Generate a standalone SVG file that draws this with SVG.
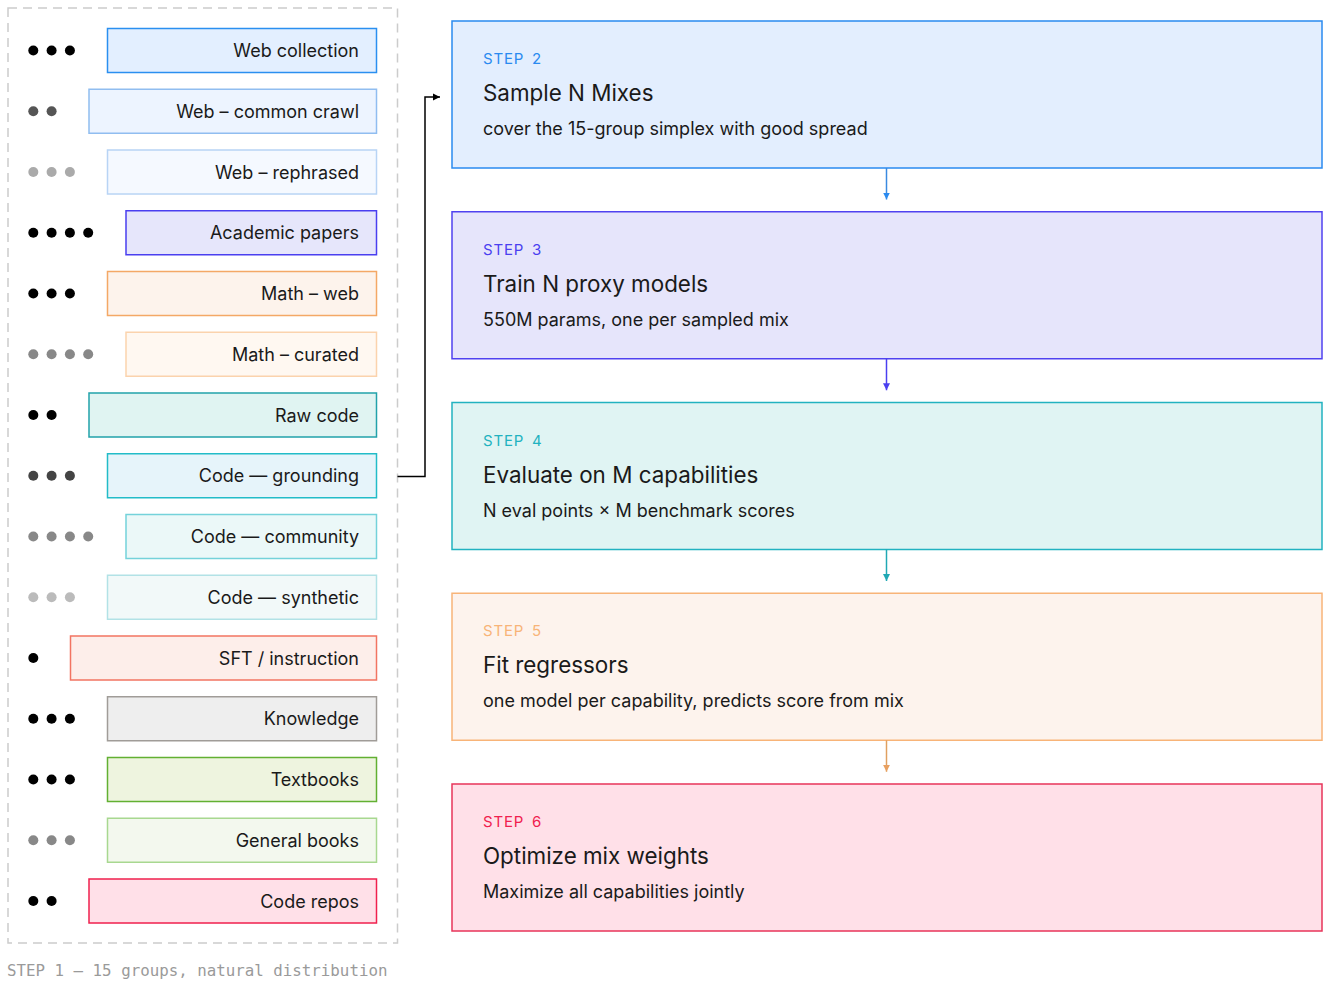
<svg xmlns="http://www.w3.org/2000/svg" width="1326" height="983" viewBox="0 0 1326 983">
<style>
  .lbl{font-family:Inter,"Liberation Sans",sans-serif;font-size:18px;fill:#1a1a1a;text-anchor:end}
  .step{font-family:Inter,"Liberation Sans",sans-serif;font-size:15px;letter-spacing:0.8px;word-spacing:3px}
  .title{font-family:Inter,"Liberation Sans",sans-serif;font-size:22.4px;fill:#1a1a1a}
  .sub{font-family:Inter,"Liberation Sans",sans-serif;font-size:18px;fill:#1a1a1a}
  .cap{font-family:"DejaVu Sans Mono","Liberation Mono",monospace;font-size:15.8px;fill:#9a9a9a}
  .box{stroke-width:1.5}
  .sbox{stroke-width:1.5}
</style>
<defs>
  <marker id="ak" markerUnits="userSpaceOnUse" markerWidth="8" markerHeight="8" refX="7" refY="4" orient="auto"><path d="M0,0.5 L7,4 L0,7.5 z" fill="#000"/></marker>
  <marker id="a2" markerUnits="userSpaceOnUse" markerWidth="8" markerHeight="8" refX="7" refY="4" orient="auto"><path d="M0,0.5 L7,4 L0,7.5 z" fill="#2a8af0"/></marker>
  <marker id="a3" markerUnits="userSpaceOnUse" markerWidth="8" markerHeight="8" refX="7" refY="4" orient="auto"><path d="M0,0.5 L7,4 L0,7.5 z" fill="#4a3ff0"/></marker>
  <marker id="a4" markerUnits="userSpaceOnUse" markerWidth="8" markerHeight="8" refX="7" refY="4" orient="auto"><path d="M0,0.5 L7,4 L0,7.5 z" fill="#20a8b4"/></marker>
  <marker id="a5" markerUnits="userSpaceOnUse" markerWidth="8" markerHeight="8" refX="7" refY="4" orient="auto"><path d="M0,0.5 L7,4 L0,7.5 z" fill="#e8a060"/></marker>
</defs>
<rect width="1326" height="983" fill="#ffffff"/>

<g id="step1-panel">
  <rect x="8" y="8" width="389.5" height="935" fill="none" stroke="#cccccc" stroke-width="1.5" stroke-dasharray="9 6"/>
  <text class="cap" x="7" y="976">STEP 1 — 15 groups, natural distribution</text>
</g>

<g id="g-web-collection">
  <rect class="box" x="107.5" y="28.5" width="269" height="44" fill="#e3efff" stroke="#2a8ff0"/>
  <text class="lbl" x="359" y="57">Web collection</text>
  <g fill="#000"><circle cx="33.3" cy="50.5" r="5"/><circle cx="51.6" cy="50.5" r="5"/><circle cx="69.9" cy="50.5" r="5"/></g>
</g>
<g id="g-web-cc">
  <rect class="box" x="89" y="89.25" width="287.5" height="44" fill="#edf4ff" stroke="#90bdf0"/>
  <text class="lbl" x="359" y="117.75">Web – common crawl</text>
  <g fill="#555"><circle cx="33.3" cy="111.25" r="5"/><circle cx="51.6" cy="111.25" r="5"/></g>
</g>
<g id="g-web-reph">
  <rect class="box" x="107.5" y="150" width="269" height="44" fill="#f5f9ff" stroke="#b8d4f5"/>
  <text class="lbl" x="359" y="178.5">Web – rephrased</text>
  <g fill="#aaa"><circle cx="33.3" cy="172" r="5"/><circle cx="51.6" cy="172" r="5"/><circle cx="69.9" cy="172" r="5"/></g>
</g>
<g id="g-academic">
  <rect class="box" x="126" y="210.75" width="250.5" height="44" fill="#e6e6fb" stroke="#4a3ff0"/>
  <text class="lbl" x="359" y="239.25">Academic papers</text>
  <g fill="#000"><circle cx="33.3" cy="232.75" r="5"/><circle cx="51.6" cy="232.75" r="5"/><circle cx="69.9" cy="232.75" r="5"/><circle cx="88.2" cy="232.75" r="5"/></g>
</g>
<g id="g-math-web">
  <rect class="box" x="107.5" y="271.5" width="269" height="44" fill="#fdf3ec" stroke="#f4a866"/>
  <text class="lbl" x="359" y="300">Math – web</text>
  <g fill="#000"><circle cx="33.3" cy="293.5" r="5"/><circle cx="51.6" cy="293.5" r="5"/><circle cx="69.9" cy="293.5" r="5"/></g>
</g>
<g id="g-math-cur">
  <rect class="box" x="126" y="332.25" width="250.5" height="44" fill="#fff8f1" stroke="#fbd3ad"/>
  <text class="lbl" x="359" y="360.75">Math – curated</text>
  <g fill="#888"><circle cx="33.3" cy="354.25" r="5"/><circle cx="51.6" cy="354.25" r="5"/><circle cx="69.9" cy="354.25" r="5"/><circle cx="88.2" cy="354.25" r="5"/></g>
</g>
<g id="g-raw-code">
  <rect class="box" x="89" y="393" width="287.5" height="44" fill="#e0f4f2" stroke="#22a2aa"/>
  <text class="lbl" x="359" y="421.5">Raw code</text>
  <g fill="#000"><circle cx="33.3" cy="415" r="5"/><circle cx="51.6" cy="415" r="5"/></g>
</g>
<g id="g-code-ground">
  <rect class="box" x="107.5" y="453.75" width="269" height="44" fill="#e6f4fa" stroke="#22bcc8"/>
  <text class="lbl" x="359" y="482.25">Code — grounding</text>
  <g fill="#444"><circle cx="33.3" cy="475.75" r="5"/><circle cx="51.6" cy="475.75" r="5"/><circle cx="69.9" cy="475.75" r="5"/></g>
</g>
<g id="g-code-comm">
  <rect class="box" x="126" y="514.5" width="250.5" height="44" fill="#ebf8f8" stroke="#74d2da"/>
  <text class="lbl" x="359" y="543">Code — community</text>
  <g fill="#888"><circle cx="33.3" cy="536.5" r="5"/><circle cx="51.6" cy="536.5" r="5"/><circle cx="69.9" cy="536.5" r="5"/><circle cx="88.2" cy="536.5" r="5"/></g>
</g>
<g id="g-code-syn">
  <rect class="box" x="107.5" y="575.25" width="269" height="44" fill="#f2f9f9" stroke="#b2e2e6"/>
  <text class="lbl" x="359" y="603.75">Code — synthetic</text>
  <g fill="#bbb"><circle cx="33.3" cy="597.25" r="5"/><circle cx="51.6" cy="597.25" r="5"/><circle cx="69.9" cy="597.25" r="5"/></g>
</g>
<g id="g-sft">
  <rect class="box" x="70.5" y="636" width="306" height="44" fill="#fdeeea" stroke="#f27462"/>
  <text class="lbl" x="359" y="664.5">SFT / instruction</text>
  <g fill="#000"><circle cx="33.3" cy="658" r="5"/></g>
</g>
<g id="g-knowledge">
  <rect class="box" x="107.5" y="696.75" width="269" height="44" fill="#eeeeee" stroke="#a09c98"/>
  <text class="lbl" x="359" y="725.25">Knowledge</text>
  <g fill="#000"><circle cx="33.3" cy="718.75" r="5"/><circle cx="51.6" cy="718.75" r="5"/><circle cx="69.9" cy="718.75" r="5"/></g>
</g>
<g id="g-textbooks">
  <rect class="box" x="107.5" y="757.5" width="269" height="44" fill="#eef4df" stroke="#62b032"/>
  <text class="lbl" x="359" y="786">Textbooks</text>
  <g fill="#000"><circle cx="33.3" cy="779.5" r="5"/><circle cx="51.6" cy="779.5" r="5"/><circle cx="69.9" cy="779.5" r="5"/></g>
</g>
<g id="g-general-books">
  <rect class="box" x="107.5" y="818.25" width="269" height="44" fill="#f3f8ee" stroke="#a8d890"/>
  <text class="lbl" x="359" y="846.75">General books</text>
  <g fill="#888"><circle cx="33.3" cy="840.25" r="5"/><circle cx="51.6" cy="840.25" r="5"/><circle cx="69.9" cy="840.25" r="5"/></g>
</g>
<g id="g-code-repos">
  <rect class="box" x="89" y="879" width="287.5" height="44" fill="#ffe0e8" stroke="#f0204e"/>
  <text class="lbl" x="359" y="907.5">Code repos</text>
  <g fill="#000"><circle cx="33.3" cy="901" r="5"/><circle cx="51.6" cy="901" r="5"/></g>
</g>

<g id="step2">
  <rect class="sbox" x="452" y="21" width="870" height="147" fill="#e3eefe" stroke="#2a8af0"/>
  <text class="step" x="483" y="64" fill="#2a8af0">STEP 2</text>
  <text class="title" x="483" y="101">Sample N Mixes</text>
  <text class="sub" x="483" y="135">cover the 15-group simplex with good spread</text>
</g>
<g id="step3">
  <rect class="sbox" x="452" y="211.75" width="870" height="147" fill="#e6e5fb" stroke="#5042f0"/>
  <text class="step" x="483" y="254.75" fill="#4a3ff0">STEP 3</text>
  <text class="title" x="483" y="291.75">Train N proxy models</text>
  <text class="sub" x="483" y="325.75">550M params, one per sampled mix</text>
</g>
<g id="step4">
  <rect class="sbox" x="452" y="402.5" width="870" height="147" fill="#e0f4f3" stroke="#22b2c0"/>
  <text class="step" x="483" y="445.5" fill="#22b2c0">STEP 4</text>
  <text class="title" x="483" y="482.5">Evaluate on M capabilities</text>
  <text class="sub" x="483" y="516.5">N eval points × M benchmark scores</text>
</g>
<g id="step5">
  <rect class="sbox" x="452" y="593.25" width="870" height="147" fill="#fdf3ed" stroke="#f8b478"/>
  <text class="step" x="483" y="636.25" fill="#f8b478">STEP 5</text>
  <text class="title" x="483" y="673.25">Fit regressors</text>
  <text class="sub" x="483" y="707.25">one model per capability, predicts score from mix</text>
</g>
<g id="step6">
  <rect class="sbox" x="452" y="784" width="870" height="147" fill="#ffe0e8" stroke="#e8345a"/>
  <text class="step" x="483" y="827" fill="#f0204e">STEP 6</text>
  <text class="title" x="483" y="864">Optimize mix weights</text>
  <text class="sub" x="483" y="898">Maximize all capabilities jointly</text>
</g>

<g id="connectors" fill="none" stroke-width="1.5">
  <polyline points="397.5,476.5 425,476.5 425,97 440,97" stroke="#000" marker-end="url(#ak)"/>
  <line x1="886.5" y1="168" x2="886.5" y2="199.5" stroke="#3a8ae0" marker-end="url(#a2)"/>
  <line x1="886.5" y1="358.75" x2="886.5" y2="390.25" stroke="#4a3ff0" marker-end="url(#a3)"/>
  <line x1="886.5" y1="549.5" x2="886.5" y2="581" stroke="#20a8b4" marker-end="url(#a4)"/>
  <line x1="886.5" y1="740.25" x2="886.5" y2="771.75" stroke="#e0a060" marker-end="url(#a5)"/>
</g>
</svg>
